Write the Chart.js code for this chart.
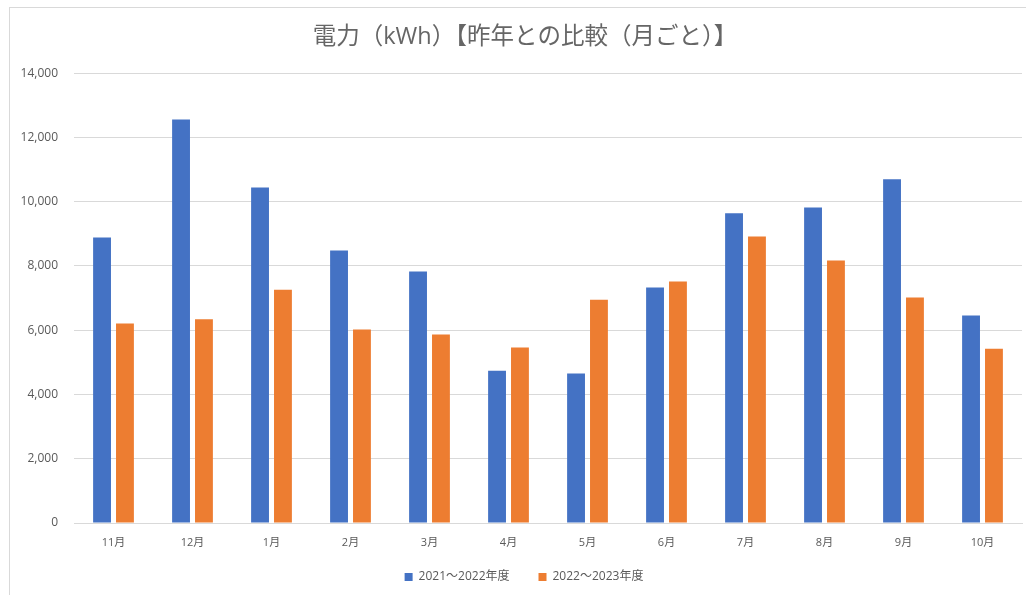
<!DOCTYPE html>
<html lang="ja">
<head>
<meta charset="utf-8">
<title>電力（kWh）【昨年との比較（月ごと）】</title>
<script src="https://cdn.jsdelivr.net/npm/chart.js@4/dist/chart.umd.min.js"></script>
<style>
  html, body { margin: 0; padding: 0; background: #ffffff; }
  #wrap { position: relative; width: 1026px; height: 595px; overflow: hidden; }
  #frame {
    position: absolute; left: 9px; top: 7px; width: 1100px; height: 700px;
    border-left: 1px solid #d9d9d9; border-top: 1px solid #d9d9d9;
  }
  #chart { position: absolute; left: 0; top: 0; }
</style>
</head>
<body>
<div id="wrap">
  <div id="frame"></div>
  <canvas id="chart" width="1026" height="595"></canvas>
</div>
<script>
// 月別の電力使用量（kWh）
const months = ['11月', '12月', '1月', '2月', '3月', '4月', '5月', '6月', '7月', '8月', '9月', '10月'];
const usage2021 = [8890, 12560, 10440, 8480, 7830, 4740, 4650, 7330, 9640, 9820, 10700, 6460];
const usage2022 = [6210, 6340, 7260, 6020, 5870, 5460, 6950, 7520, 8920, 8170, 7020, 5420];
const seriesNames = ['2021～2022年度', '2022～2023年度'];
const yTicks = [0, 2000, 4000, 6000, 8000, 10000, 12000, 14000];

const FONT = '"Open Sans", "Noto Sans CJK JP", sans-serif';
const GREY_TEXT = '#595959';
const GRID = '#d9d9d9';

// 凡例の高さを固定し、凡例とタイトルの位置を微調整する
const blockPlacement = {
  id: 'blockPlacement',
  beforeLayout(chart) {
    const lg = chart.legend;
    if (lg && !lg._fixedFit) {
      const fit = lg.fit.bind(lg);
      lg.fit = function () { fit(); this.height = 32; };
      lg._fixedFit = true;
    }
  },
  afterLayout(chart) {
    const lg = chart.legend;
    if (lg) {
      lg.top = 542; lg.bottom = 595; lg.height = 53;
      lg.left += 13; lg.right += 13;
    }
    const tb = chart.titleBlock;
    if (tb) { tb.left += 14; tb.right += 14; }
  }
};

new Chart(document.getElementById('chart'), {
  type: 'bar',
  data: {
    labels: months,
    datasets: [
      { label: seriesNames[0], data: usage2021, backgroundColor: '#4472c4', borderWidth: 0 },
      { label: seriesNames[1], data: usage2022, backgroundColor: '#ed7d31', borderWidth: 0 }
    ]
  },
  plugins: [blockPlacement],
  options: {
    responsive: false,
    animation: false,
    devicePixelRatio: 1,
    categoryPercentage: 0.58,
    barPercentage: 0.78,
    layout: { padding: { top: 7, right: 4, left: 0, bottom: 0 } },
    plugins: {
      title: {
        display: true,
        text: '電力（kWh）【昨年との比較（月ごと）】',
        color: '#666666',
        font: { family: FONT, size: 23.5, weight: 'normal' },
        padding: { top: 16, bottom: 22 }
      },
      legend: {
        position: 'bottom',
        labels: {
          color: GREY_TEXT,
          font: { family: FONT, size: 12 },
          boxWidth: 8,
          boxHeight: 8,
          padding: 29
        }
      },
      tooltip: { enabled: false }
    },
    scales: {
      x: {
        grid: { display: false, drawTicks: false },
        border: { display: true, color: GRID, width: 1 },
        ticks: { color: GREY_TEXT, font: { family: FONT, size: 11 }, padding: 13 },
        afterFit(scale) { scale.height = 40; }
      },
      y: {
        min: yTicks[0],
        max: yTicks[yTicks.length - 1],
        afterBuildTicks(scale) { scale.ticks = yTicks.map(v => ({ value: v })); },
        grid: { color: GRID, lineWidth: 1, drawTicks: false },
        border: { display: false },
        ticks: {
          color: GREY_TEXT,
          font: { family: FONT, size: 12 },
          padding: 16,
          callback: v => v.toLocaleString('en-US')
        },
        afterFit(scale) { scale.width = 74; }
      }
    }
  }
});
</script>
</body>
</html>
